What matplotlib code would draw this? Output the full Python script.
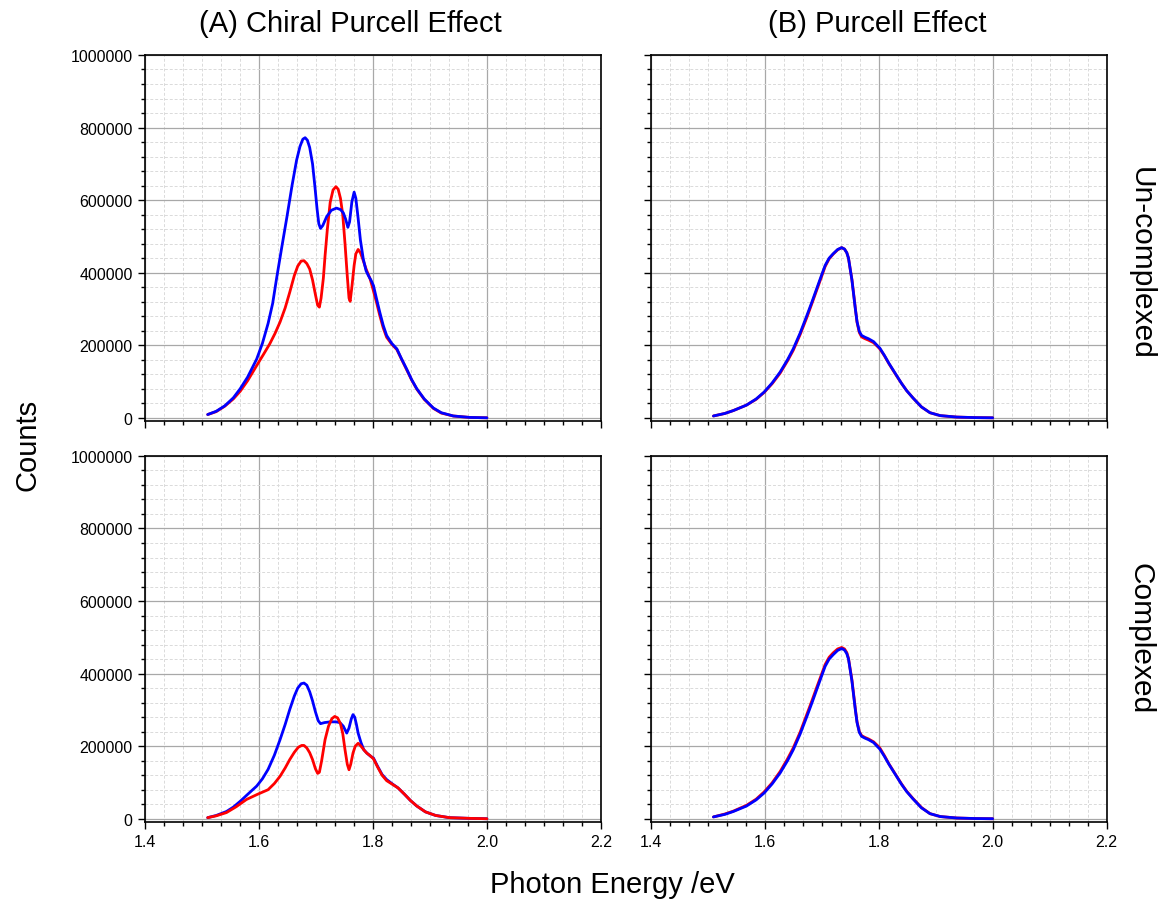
import numpy as np
import matplotlib.pyplot as plt
from matplotlib.ticker import MultipleLocator

plt.rcParams['font.family'] = ['Liberation Sans', 'DejaVu Sans']

# (A) chiral purcell, un-complexed
xa_top_blue = [1.510, 1.525, 1.540, 1.555, 1.567, 1.580, 1.596, 1.606, 1.616, 1.624, 1.631, 1.640,
               1.649, 1.658, 1.666, 1.672, 1.677, 1.681, 1.685, 1.689, 1.694, 1.698, 1.702, 1.705,
               1.708, 1.712, 1.719, 1.727, 1.736, 1.743, 1.748, 1.752, 1.756, 1.759, 1.763, 1.767,
               1.770, 1.774, 1.778, 1.783, 1.788, 1.792, 1.797, 1.801, 1.806, 1.812, 1.818, 1.824,
               1.833, 1.842, 1.850, 1.859, 1.868, 1.877, 1.890, 1.906, 1.920, 1.941, 1.970, 2.000]
ya_top_blue = [9000, 18000, 33000, 55000, 80000, 112000, 162000, 205000, 260000, 315000, 385000, 470000,
               553000, 640000, 710000, 748000, 768000, 772000, 765000, 745000, 700000, 640000, 575000, 535000,
               522000, 530000, 555000, 572000, 578000, 574000, 565000, 548000, 525000, 540000, 595000, 622000,
               605000, 550000, 490000, 438000, 405000, 392000, 378000, 364000, 330000, 291000, 255000, 227000,
               205000, 190000, 163000, 135000, 105000, 80000, 52000, 27000, 14000, 5000, 1000, 0]
xa_top_red = [1.510, 1.525, 1.540, 1.555, 1.567, 1.580, 1.596, 1.608, 1.619, 1.628, 1.637, 1.646,
              1.654, 1.662, 1.668, 1.674, 1.679, 1.684, 1.689, 1.694, 1.699, 1.703, 1.706, 1.709,
              1.713, 1.716, 1.720, 1.725, 1.730, 1.735, 1.739, 1.743, 1.747, 1.751, 1.755, 1.758,
              1.760, 1.763, 1.767, 1.770, 1.774, 1.778, 1.782, 1.788, 1.795, 1.800, 1.806, 1.812,
              1.818, 1.824, 1.833, 1.842, 1.850, 1.859, 1.868, 1.877, 1.890, 1.906, 1.920, 1.941,
              1.970, 2.000]
ya_top_red = [9000, 17000, 32000, 52000, 73000, 102000, 144000, 175000, 204000, 232000, 264000, 303000,
              346000, 392000, 418000, 432000, 433000, 425000, 410000, 380000, 340000, 310000, 305000, 330000,
              385000, 447000, 520000, 594000, 628000, 637000, 630000, 605000, 560000, 480000, 390000, 330000,
              321000, 360000, 420000, 452000, 464000, 455000, 438000, 410000, 383000, 355000, 320000, 282000,
              248000, 222000, 203000, 188000, 162000, 133000, 104000, 79000, 51000, 26000, 13000, 5000,
              1000, 0]

# (A) chiral purcell, complexed
xa_bot_blue = [1.510, 1.525, 1.543, 1.555, 1.567, 1.580, 1.596, 1.606, 1.616, 1.627, 1.637, 1.646,
               1.654, 1.662, 1.668, 1.674, 1.679, 1.684, 1.689, 1.694, 1.699, 1.704, 1.708, 1.715,
               1.725, 1.735, 1.742, 1.748, 1.754, 1.758, 1.762, 1.765, 1.768, 1.771, 1.774, 1.779,
               1.784, 1.790, 1.796, 1.801, 1.808, 1.816, 1.824, 1.834, 1.844, 1.855, 1.866, 1.877,
               1.892, 1.910, 1.934, 1.970, 2.000]
ya_bot_blue = [3000, 9000, 20000, 32000, 48000, 67000, 90000, 110000, 136000, 175000, 218000, 260000,
               301000, 338000, 360000, 372000, 374000, 368000, 350000, 325000, 295000, 270000, 262000, 265000,
               267000, 267000, 265000, 255000, 236000, 250000, 275000, 287000, 280000, 260000, 236000, 210000,
               190000, 180000, 172000, 167000, 145000, 122000, 108000, 96000, 85000, 68000, 50000, 35000,
               19000, 9000, 3000, 1000, 0]
xa_bot_red = [1.510, 1.525, 1.543, 1.560, 1.578, 1.597, 1.616, 1.627, 1.637, 1.646, 1.654, 1.662,
              1.669, 1.675, 1.679, 1.684, 1.689, 1.694, 1.699, 1.703, 1.706, 1.710, 1.716, 1.722,
              1.728, 1.733, 1.738, 1.743, 1.747, 1.751, 1.755, 1.758, 1.761, 1.765, 1.769, 1.774,
              1.779, 1.784, 1.789, 1.795, 1.801, 1.808, 1.816, 1.824, 1.834, 1.844, 1.855, 1.866,
              1.877, 1.892, 1.910, 1.934, 1.970, 2.000]
ya_bot_red = [3000, 8000, 17000, 33000, 53000, 67000, 80000, 97000, 117000, 140000, 163000, 183000,
              197000, 202000, 202000, 195000, 182000, 163000, 138000, 125000, 128000, 160000, 218000, 255000,
              276000, 282000, 278000, 262000, 235000, 190000, 150000, 135000, 150000, 181000, 200000, 208000,
              200000, 190000, 181000, 174000, 165000, 143000, 120000, 105000, 95000, 85000, 68000, 50000,
              35000, 19000, 9000, 3000, 1000, 0]

# (B) purcell: one energy axis, blue identical in both rows
xb = [1.510, 1.530, 1.545, 1.568, 1.585, 1.599, 1.613, 1.627, 1.640, 1.650, 1.662, 1.674,
      1.683, 1.691, 1.699, 1.706, 1.713, 1.720, 1.728, 1.735, 1.740, 1.744, 1.747, 1.750,
      1.753, 1.756, 1.759, 1.762, 1.766, 1.770, 1.776, 1.782, 1.791, 1.797, 1.802, 1.810,
      1.818, 1.826, 1.832, 1.840, 1.849, 1.860, 1.875, 1.890, 1.908, 1.937, 1.970, 2.000]
yb_blue = [5000, 12000, 20000, 35000, 52000, 71000, 96000, 126000, 160000, 190000, 233000, 282000,
           320000, 355000, 390000, 420000, 440000, 452000, 464000, 469000, 465000, 455000, 440000, 410000,
           380000, 340000, 300000, 265000, 238000, 227000, 222000, 218000, 210000, 200000, 192000, 172000,
           150000, 130000, 115000, 95000, 75000, 55000, 30000, 14000, 6000, 2000, 500, 0]
yb_top_red = [5000, 12000, 20000, 35000, 51000, 70000, 94000, 123000, 157000, 186000, 229000, 277000,
              316000, 351000, 386000, 417000, 438000, 451000, 463000, 469000, 465000, 455000, 440000, 410000,
              381000, 342000, 302000, 263000, 235000, 223000, 218000, 214000, 207000, 198000, 190000, 171000,
              149000, 129000, 114000, 95000, 75000, 55000, 30000, 14000, 6000, 2000, 500, 0]
yb_bot_red = [5000, 13000, 21000, 37000, 54000, 74000, 99000, 130000, 165000, 195000, 238000, 288000,
              326000, 361000, 395000, 425000, 445000, 457000, 468000, 472000, 468000, 458000, 442000, 412000,
              383000, 343000, 303000, 267000, 240000, 229000, 224000, 220000, 212000, 203000, 195000, 174000,
              151000, 131000, 116000, 96000, 76000, 56000, 31000, 14000, 6000, 2000, 500, 0]

col_titles = ['(A) Chiral Purcell Effect', '(B) Purcell Effect']
row_titles = ['Un-complexed', 'Complexed']

fig = plt.figure(figsize=(11.6, 9.03), dpi=100)
lefts = [0.125, 0.561]
bottoms = [0.533, 0.089]
w, h = 0.393, 0.405

data = [
    [[(xa_top_red, ya_top_red, 'red'), (xa_top_blue, ya_top_blue, 'blue')],
     [(xb, yb_top_red, 'red'), (xb, yb_blue, 'blue')]],
    [[(xa_bot_blue, ya_bot_blue, 'blue'), (xa_bot_red, ya_bot_red, 'red')],
     [(xb, yb_bot_red, 'red'), (xb, yb_blue, 'blue')]],
]

for r in range(2):
    for c in range(2):
        ax = fig.add_axes([lefts[c], bottoms[r], w, h])
        for xs, ys, col in data[r][c]:
            ax.plot(xs, ys, color=col, lw=2, solid_joinstyle='round', solid_capstyle='round', zorder=3)
        ax.set_xlim(1.4, 2.2)
        ax.set_ylim(-8000, 1000000)
        ax.xaxis.set_major_locator(MultipleLocator(0.2))
        ax.xaxis.set_minor_locator(MultipleLocator(0.2 / 6))
        ax.yaxis.set_major_locator(MultipleLocator(200000))
        ax.yaxis.set_minor_locator(MultipleLocator(40000))
        ax.grid(which='major', color='#a8a8a8', lw=0.9, ls='-')
        ax.grid(which='minor', color='#dadada', lw=0.7, ls=(0, (3, 2)))
        ax.set_axisbelow(True)
        ax.tick_params(which='major', direction='out', length=5, width=1, labelsize=11.5, pad=4)
        ax.tick_params(which='minor', direction='out', length=3, width=1)
        for s in ax.spines.values():
            s.set_linewidth(1.2)
        ax.xaxis.set_major_formatter(plt.FuncFormatter(lambda v, p: f'{v:.1f}'))
        ax.yaxis.set_major_formatter(plt.FuncFormatter(lambda v, p: f'{int(round(v))}'))
        if r == 0:
            ax.tick_params(labelbottom=False)
        if c == 1:
            ax.tick_params(labelleft=False)

fig.text(0.302, 0.973, col_titles[0], fontsize=21, ha='center', va='center')
fig.text(0.756, 0.973, col_titles[1], fontsize=21, ha='center', va='center')
fig.text(0.983, 0.708, row_titles[0], rotation=270, fontsize=21.5, ha='center', va='center')
fig.text(0.983, 0.293, row_titles[1], rotation=270, fontsize=21.5, ha='center', va='center')
fig.text(0.024, 0.507, 'Counts', rotation=90, fontsize=21, ha='center', va='center')
fig.text(0.528, 0.020, 'Photon Energy /eV', fontsize=21, ha='center', va='center')

fig.savefig('out.png', dpi=100)
